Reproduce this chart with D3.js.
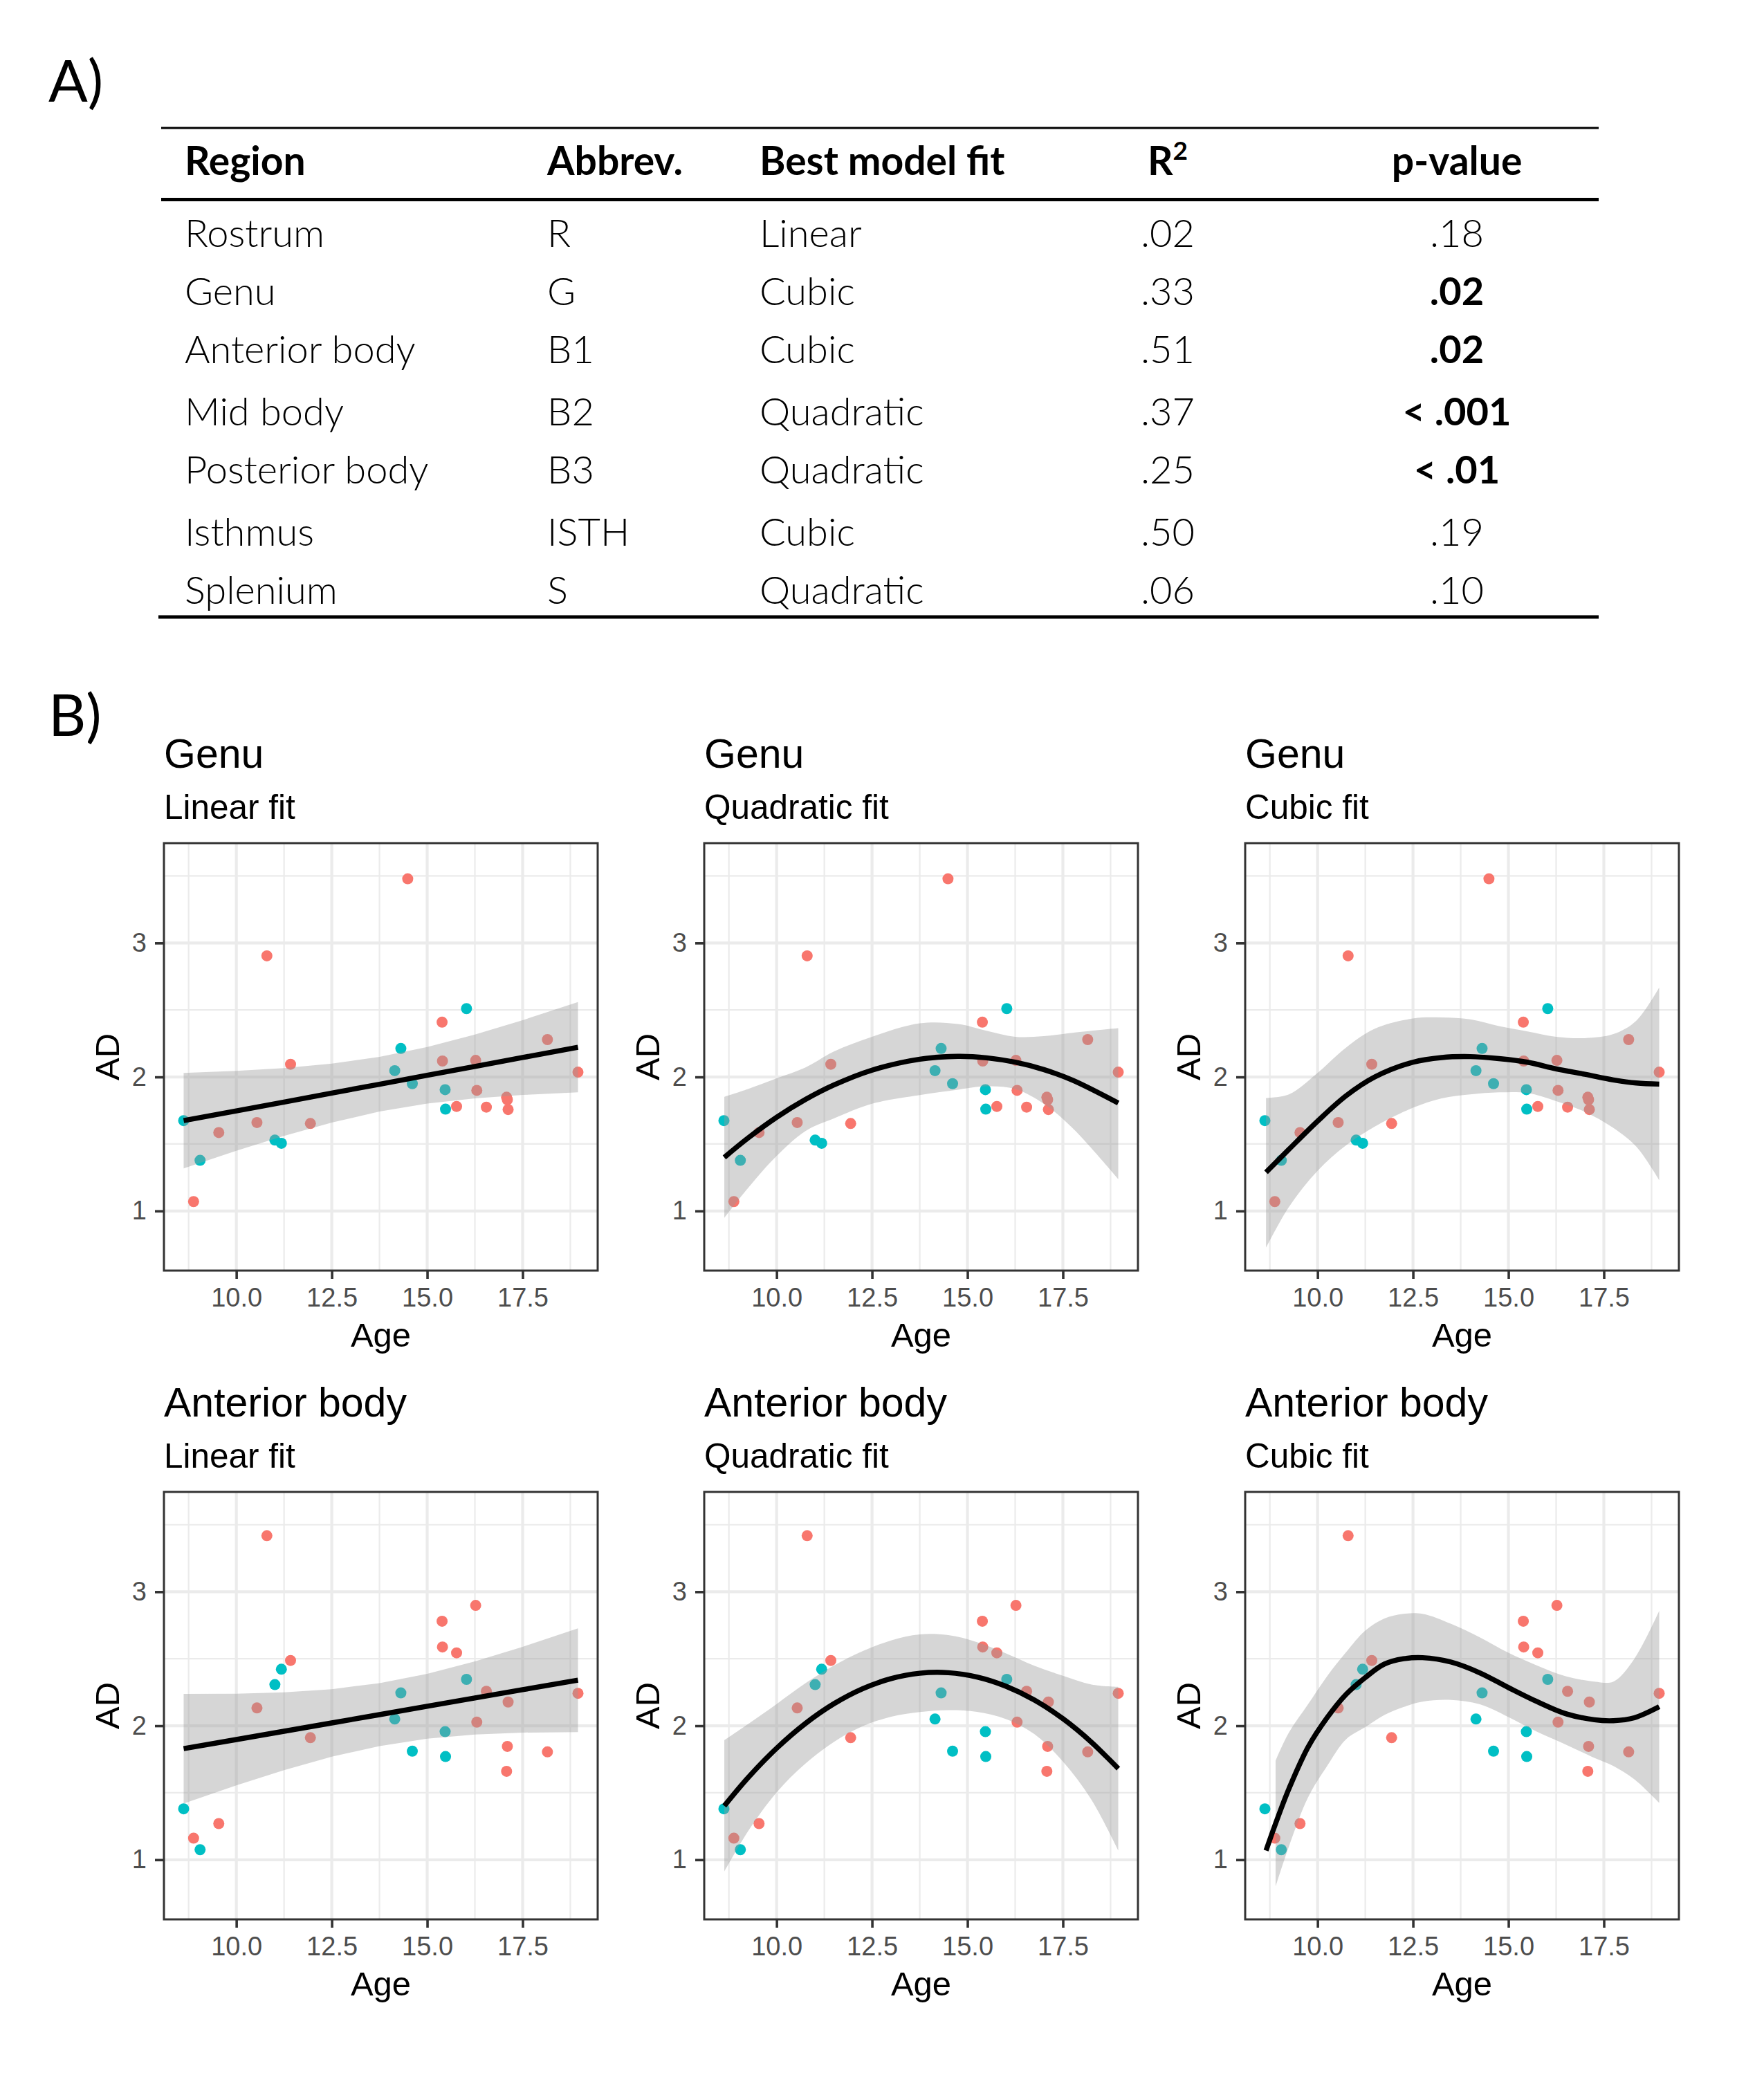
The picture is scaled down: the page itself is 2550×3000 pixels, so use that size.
<!DOCTYPE html>
<html>
<head>
<meta charset="utf-8">
<script src="https://cdn.jsdelivr.net/npm/d3@7"></script>
<style>
  body { margin: 0; background: #ffffff; }
  svg { display: block; }
</style>
</head>
<body>
<svg id="chart" width="2550" height="3000"></svg>
<script>
// ---------------- DATA ----------------
// Table (part A)
const tableHeaders = ["Region", "Abbrev.", "Best model fit", "R2", "p-value"];
const tableRegions = ["Rostrum", "Genu", "Anterior body", "Mid body", "Posterior body", "Isthmus", "Splenium"];
const tableAbbrev  = ["R", "G", "B1", "B2", "B3", "ISTH", "S"];
const tableModel   = ["Linear", "Cubic", "Cubic", "Quadratic", "Quadratic", "Cubic", "Quadratic"];
const tableR2      = [".02", ".33", ".51", ".37", ".25", ".50", ".06"];
const tableP       = [".18", ".02", ".02", "< .001", "< .01", ".19", ".10"];
const tablePBold   = [false, true, true, true, true, false, false];

// Scatter data (part B)
const genuAge   = [8.62, 8.88, 9.05, 9.54, 10.54, 10.80, 11.01, 11.18, 11.42, 11.94, 14.15, 14.31, 14.49, 14.61, 15.39, 15.40, 15.47, 15.48, 15.77, 16.03, 16.27, 16.30, 16.55, 17.08, 17.10, 17.12, 18.15, 18.95];
const genuAD    = [1.674, 1.07, 1.378, 1.585, 1.66, 2.904, 1.529, 1.505, 2.095, 1.653, 2.047, 2.213, 3.479, 1.95, 2.409, 2.119, 1.905, 1.76, 1.78, 2.51, 2.124, 1.90, 1.775, 1.849, 1.83, 1.757, 2.279, 2.036];
const genuGroup = ["M","F","M","F","F","F","M","M","F","F","M","M","F","M","F","F","M","M","F","M","F","F","F","F","F","F","F","F"];

const abAge   = [8.62, 8.88, 9.05, 9.54, 10.54, 10.80, 11.01, 11.18, 11.42, 11.94, 14.15, 14.31, 14.61, 15.39, 15.40, 15.47, 15.48, 15.77, 16.03, 16.27, 16.30, 16.55, 17.08, 17.10, 17.12, 18.15, 18.95];
const abAD    = [1.38, 1.161, 1.075, 1.27, 2.133, 3.418, 2.307, 2.422, 2.487, 1.911, 2.05, 2.245, 1.81, 2.78, 2.588, 1.956, 1.77, 2.544, 2.346, 2.898, 2.027, 2.257, 1.66, 1.846, 2.177, 1.805, 2.242];
const abGroup = ["M","F","M","F","F","F","M","M","F","F","M","M","M","F","F","M","M","F","M","F","F","F","F","F","F","F","F"];

// Fitted curves with confidence ribbons
const genuLinAge = [8.62, 10, 11.25, 12.5, 13.75, 15, 16.25, 17.5, 18.95];
const genuLinFit = [1.674, 1.747, 1.813, 1.880, 1.946, 2.012, 2.078, 2.145, 2.222];
const genuLinLo  = [1.318, 1.449, 1.56, 1.66, 1.742, 1.801, 1.84, 1.866, 1.885];
const genuLinHi  = [2.03, 2.045, 2.066, 2.10, 2.15, 2.223, 2.316, 2.424, 2.559];

const genuQuadAge = [8.63, 9.25, 10, 10.75, 11.5, 12.5, 13.75, 14.75, 15.5, 16.25, 17, 17.75, 18.95];
const genuQuadFit = [1.40, 1.544, 1.699, 1.831, 1.94, 2.051, 2.133, 2.154, 2.143, 2.110, 2.055, 1.976, 1.805];
const genuQuadLo  = [0.948, 1.17, 1.41, 1.595, 1.69, 1.80, 1.865, 1.905, 1.93, 1.91, 1.80, 1.62, 1.239];
const genuQuadHi  = [1.852, 1.91, 1.99, 2.07, 2.19, 2.30, 2.40, 2.395, 2.345, 2.30, 2.305, 2.33, 2.364];

const genuCubAge = [8.65, 9.25, 10, 10.75, 11.5, 12.5, 13.25, 14, 14.75, 15.5, 16.25, 17, 17.75, 18.35, 18.95];
const genuCubFit = [1.289, 1.46, 1.67, 1.86, 2.00, 2.11, 2.145, 2.152, 2.137, 2.11, 2.06, 2.02, 1.978, 1.955, 1.947];
const genuCubLo  = [0.726, 1.03, 1.30, 1.49, 1.63, 1.77, 1.84, 1.87, 1.885, 1.88, 1.82, 1.74, 1.62, 1.48, 1.23];
const genuCubHi  = [1.843, 1.87, 2.03, 2.22, 2.36, 2.436, 2.444, 2.43, 2.38, 2.34, 2.30, 2.29, 2.32, 2.42, 2.667];

const abLinAge = [8.62, 10, 11.25, 12.5, 13.75, 15, 16.25, 17.5, 18.95];
const abLinFit = [1.829, 1.897, 1.959, 2.021, 2.083, 2.145, 2.207, 2.269, 2.34];
const abLinLo  = [1.42, 1.555, 1.669, 1.769, 1.848, 1.903, 1.934, 1.949, 1.953];
const abLinHi  = [2.238, 2.239, 2.249, 2.273, 2.318, 2.387, 2.48, 2.589, 2.727];

const abQuadAge = [8.63, 9.25, 10, 10.75, 11.5, 12.25, 13, 13.75, 14.5, 15.25, 16, 16.75, 17.5, 18.25, 18.95];
const abQuadFit = [1.402, 1.612, 1.832, 2.016, 2.164, 2.276, 2.352, 2.392, 2.396, 2.364, 2.296, 2.193, 2.053, 1.877, 1.68];
const abQuadLo  = [0.912, 1.212, 1.502, 1.716, 1.879, 1.996, 2.067, 2.102, 2.116, 2.104, 2.051, 1.938, 1.733, 1.447, 1.07];
const abQuadHi  = [1.892, 2.012, 2.162, 2.316, 2.449, 2.556, 2.637, 2.682, 2.676, 2.624, 2.541, 2.448, 2.373, 2.307, 2.29];

const abCubAge = [8.65, 8.9, 9.25, 9.75, 10.25, 10.75, 11.25, 11.75, 12.25, 12.75, 13.5, 14.25, 15, 15.75, 16.5, 17.25, 17.75, 18.3, 18.95];
const abCubFit = [1.069, 1.27, 1.53, 1.84, 2.06, 2.235, 2.36, 2.46, 2.50, 2.508, 2.475, 2.395, 2.285, 2.18, 2.09, 2.045, 2.038, 2.06, 2.142];
const abCubLo  = [null, 0.80, 1.10, 1.465, 1.70, 1.90, 1.99, 2.08, 2.14, 2.18, 2.193, 2.16, 2.065, 1.955, 1.86, 1.76, 1.70, 1.60, 1.424];
const abCubHi  = [null, 1.74, 1.95, 2.16, 2.37, 2.55, 2.71, 2.80, 2.835, 2.835, 2.76, 2.66, 2.545, 2.45, 2.37, 2.33, 2.33, 2.50, 2.857];

// Axes
const xTicks = [10, 12.5, 15, 17.5];
const xMinor = [8.75, 11.25, 13.75, 16.25, 18.75];
const yTicks = [1, 2, 3];
const yMinor = [1.5, 2.5, 3.5];
const yLimits = [0.7, 3.6];
const regionTitles = ["Genu", "Anterior body"];
const fitTitles = ["Linear fit", "Quadratic fit", "Cubic fit"];
const xLabel = "Age";
const yLabel = "AD";
const groupColors = { F: "#F8766D", M: "#00BFC4" };

// ---------------- LAYOUT ----------------
const svg = d3.select("#chart");
svg.append("rect").attr("width", 2550).attr("height", 3000).attr("fill", "#ffffff");

const tableFont = "Lato, 'Open Sans', 'Liberation Sans', sans-serif";
const plotFont = "'Liberation Sans', Arial, Helvetica, sans-serif";

// Panel labels
svg.append("text").attr("x", 70).attr("y", 147).attr("font-family", tableFont)
  .attr("font-size", 84).attr("fill", "#000").text("A)");
svg.append("text").attr("x", 70).attr("y", 1064).attr("font-family", tableFont)
  .attr("font-size", 84).attr("fill", "#000").text("B)");

// ---------------- TABLE ----------------
const tbl = svg.append("g");
const colX = [267, 791, 1098, 1688, 2106];
const colAnchor = ["start", "start", "start", "middle", "middle"];
const headerBaseline = 253;
const rowBaselines = [357, 441, 525, 615, 699, 789, 873];

tbl.append("line").attr("x1", 233).attr("x2", 2311).attr("y1", 185).attr("y2", 185)
  .attr("stroke", "#000").attr("stroke-width", 2.8);
tbl.append("line").attr("x1", 233).attr("x2", 2311).attr("y1", 288.5).attr("y2", 288.5)
  .attr("stroke", "#000").attr("stroke-width", 4.8);
tbl.append("line").attr("x1", 229).attr("x2", 2311).attr("y1", 892).attr("y2", 892)
  .attr("stroke", "#000").attr("stroke-width", 4.8);

tableHeaders.forEach((h, i) => {
  const t = tbl.append("text").attr("x", colX[i]).attr("y", headerBaseline)
    .attr("text-anchor", colAnchor[i]).attr("font-family", tableFont)
    .attr("font-weight", 700).attr("font-size", 57).attr("fill", "#000");
  if (h === "R2") {
    t.append("tspan").text("R");
    t.append("tspan").attr("font-size", 37).attr("dy", -22).text("2");
  } else {
    t.text(h);
  }
});

const rows = tableRegions.map((r, i) => [r, tableAbbrev[i], tableModel[i], tableR2[i], tableP[i]]);
rows.forEach((row, ri) => {
  row.forEach((cell, ci) => {
    tbl.append("text").attr("x", colX[ci]).attr("y", rowBaselines[ri])
      .attr("text-anchor", colAnchor[ci]).attr("font-family", tableFont)
      .attr("font-weight", (ci === 4 && tablePBold[ri]) ? 700 : 300)
      .attr("font-size", 56).attr("fill", "#000").text(cell);
  });
});

// ---------------- PANELS ----------------
const allAges = genuAge.concat(abAge);
const ageExt = d3.extent(allAges);
const ageSpan = ageExt[1] - ageExt[0];
const xDomain = [ageExt[0] - 0.05 * ageSpan, ageExt[1] + 0.05 * ageSpan];
const ySpan = yLimits[1] - yLimits[0];
const yDomain = [yLimits[0] - 0.05 * ySpan, yLimits[1] + 0.05 * ySpan];

const panelLefts = [237, 1018, 1800];
const panelTops = [1219, 2157];
const PW = 627, PH = 618;

const regionData = [
  { age: genuAge, ad: genuAD, grp: genuGroup,
    fits: [
      { age: genuLinAge, fit: genuLinFit, lo: genuLinLo, hi: genuLinHi },
      { age: genuQuadAge, fit: genuQuadFit, lo: genuQuadLo, hi: genuQuadHi },
      { age: genuCubAge, fit: genuCubFit, lo: genuCubLo, hi: genuCubHi }
    ] },
  { age: abAge, ad: abAD, grp: abGroup,
    fits: [
      { age: abLinAge, fit: abLinFit, lo: abLinLo, hi: abLinHi },
      { age: abQuadAge, fit: abQuadFit, lo: abQuadLo, hi: abQuadHi },
      { age: abCubAge, fit: abCubFit, lo: abCubLo, hi: abCubHi }
    ] }
];

const x = d3.scaleLinear().domain(xDomain).range([0, PW]);
const y = d3.scaleLinear().domain(yDomain).range([PH, 0]);

const defs = svg.append("defs");
defs.append("clipPath").attr("id", "panelClip")
  .append("rect").attr("x", 0).attr("y", 0).attr("width", PW).attr("height", PH);

regionData.forEach((reg, ri) => {
  reg.fits.forEach((ft, ci) => {
    const g = svg.append("g")
      .attr("transform", `translate(${panelLefts[ci]},${panelTops[ri]})`);

    // titles
    g.append("text").attr("x", 0).attr("y", -109).attr("font-family", plotFont)
      .attr("font-size", 59).attr("fill", "#000").text(regionTitles[ri]);
    g.append("text").attr("x", 0).attr("y", -35).attr("font-family", plotFont)
      .attr("font-size", 49.5).attr("fill", "#000").text(fitTitles[ci]);

    const inner = g.append("g").attr("clip-path", "url(#panelClip)");
    inner.append("rect").attr("width", PW).attr("height", PH).attr("fill", "#fff");

    // grid
    inner.selectAll("line.vmin").data(xMinor).join("line").attr("class", "vmin")
      .attr("x1", d => x(d)).attr("x2", d => x(d)).attr("y1", 0).attr("y2", PH)
      .attr("stroke", "#EBEBEB").attr("stroke-width", 2.2);
    inner.selectAll("line.hmin").data(yMinor).join("line").attr("class", "hmin")
      .attr("y1", d => y(d)).attr("y2", d => y(d)).attr("x1", 0).attr("x2", PW)
      .attr("stroke", "#EBEBEB").attr("stroke-width", 2.2);
    inner.selectAll("line.vmaj").data(xTicks).join("line").attr("class", "vmaj")
      .attr("x1", d => x(d)).attr("x2", d => x(d)).attr("y1", 0).attr("y2", PH)
      .attr("stroke", "#EBEBEB").attr("stroke-width", 4.2);
    inner.selectAll("line.hmaj").data(yTicks).join("line").attr("class", "hmaj")
      .attr("y1", d => y(d)).attr("y2", d => y(d)).attr("x1", 0).attr("x2", PW)
      .attr("stroke", "#EBEBEB").attr("stroke-width", 4.2);

    // points
    const pts = reg.age.map((a, i) => ({ a, v: reg.ad[i], g: reg.grp[i] }));
    inner.selectAll("circle").data(pts).join("circle")
      .attr("cx", d => x(d.a)).attr("cy", d => y(d.v)).attr("r", 8)
      .attr("fill", d => groupColors[d.g]);

    // ribbon + fit
    const fd = ft.age.map((a, i) => ({ a, f: ft.fit[i], lo: ft.lo[i], hi: ft.hi[i] }));
    const curve = ci === 0 ? d3.curveLinear : d3.curveCatmullRom.alpha(0.5);
    const area = d3.area()
      .defined(d => d.lo != null && d.hi != null)
      .x(d => x(d.a)).y0(d => y(d.lo)).y1(d => y(d.hi)).curve(curve);
    inner.append("path").datum(fd).attr("d", area)
      .attr("fill", "#999999").attr("fill-opacity", 0.4);
    const lineGen = d3.line().x(d => x(d.a)).y(d => y(d.f))
      .curve(ci === 0 ? d3.curveLinear : d3.curveCatmullRom.alpha(0.5));
    inner.append("path").datum(fd).attr("d", lineGen)
      .attr("fill", "none").attr("stroke", "#000").attr("stroke-width", 7.4)
      .attr("stroke-linecap", "butt");

    // border
    g.append("rect").attr("width", PW).attr("height", PH).attr("fill", "none")
      .attr("stroke", "#333333").attr("stroke-width", 3);

    // axes
    const xAxis = d3.axisBottom(x).tickValues(xTicks).tickFormat(d3.format(".1f"))
      .tickSize(12).tickPadding(13);
    const gx = g.append("g").attr("transform", `translate(0,${PH})`).call(xAxis);
    const yAxis = d3.axisLeft(y).tickValues(yTicks).tickFormat(d3.format("d"))
      .tickSize(13).tickPadding(12);
    const gy = g.append("g").call(yAxis);
    [gx, gy].forEach(ax => {
      ax.select(".domain").remove();
      ax.selectAll(".tick line").attr("stroke", "#333333").attr("stroke-width", 3.6);
      ax.selectAll(".tick text").attr("fill", "#4D4D4D").attr("font-size", 38)
        .attr("font-family", plotFont);
    });

    // axis titles
    g.append("text").attr("x", PW / 2).attr("y", PH + 110).attr("text-anchor", "middle")
      .attr("font-family", plotFont).attr("font-size", 49).attr("fill", "#000").text(xLabel);
    g.append("text")
      .attr("transform", `translate(${-82},${PH / 2}) rotate(-90)`)
      .attr("text-anchor", "middle").attr("dominant-baseline", "central")
      .attr("font-family", plotFont).attr("font-size", 49).attr("fill", "#000").text(yLabel);
  });
});
</script>
</body>
</html>
